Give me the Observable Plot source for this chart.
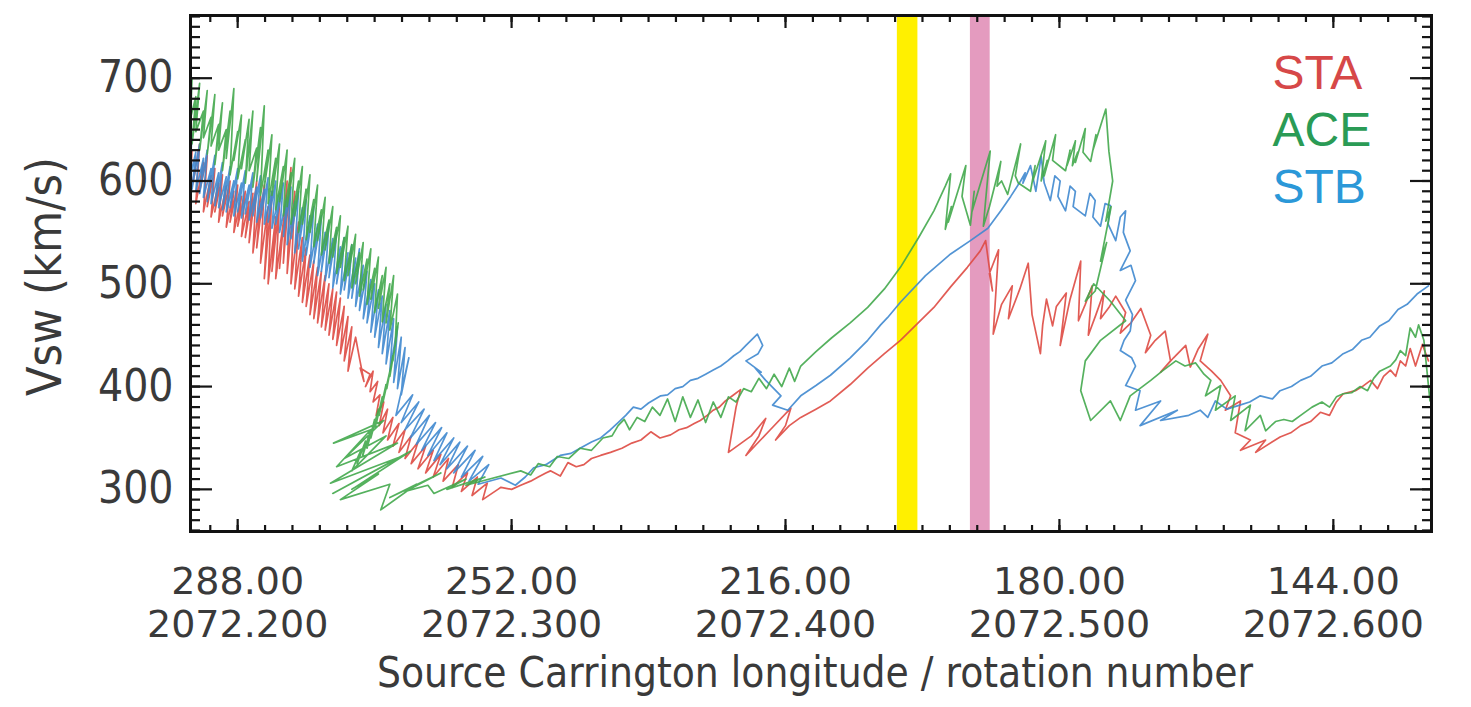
<!DOCTYPE html>
<html><head><meta charset="utf-8">
<script src="https://cdn.jsdelivr.net/npm/d3@7"></script>
<script src="https://cdn.jsdelivr.net/npm/@observablehq/plot@0.6"></script>
<style>html,body{margin:0;padding:0;background:#fff}svg{display:block}</style>
</head><body><div id="chart"></div>
<script>
// Source Carrington longitude (deg) and solar wind speed (km/s)
const sta = [
[294.2,600],[294.0,630],[294.5,585],[293.5,612],[294.0,595],[293.0,636],[293.5,578],[292.5,618],[293.0,590],[292.0,625],[292.5,570],[291.5,605],[292.0,575],[291.0,612],[291.5,565],[290.5,598],[291.0,570],[290.0,606],[290.5,560],[289.5,595],[290.0,566],[289.0,600],[289.5,555],[288.5,590],[289.0,560],[288.0,596],[288.5,550],[287.5,585],[288.0,556],[287.0,590],[287.5,546],[286.5,580],[287.0,545],[286.0,588],[286.5,540],[285.5,600],[286.0,530],[285.0,585],[285.5,535],[284.5,596],[285.0,520],[284.0,575],[284.5,505],[283.5,590],[284.0,500],[283.0,565],[283.5,512],[282.5,580],[283.0,505],[282.0,560],[282.5,515],[281.5,600],[282.0,520],[281.0,613],[281.5,510],[280.5,590],[281.0,500],[280.0,560],[280.5,495],[279.5,545],[280.0,488],[279.0,535],[279.5,482],[278.5,528],[279.0,478],[278.0,522],[278.5,470],[277.5,516],[278.0,466],[277.0,512],[277.5,462],[276.5,508],[277.0,458],[276.0,500],[276.5,455],[275.5,495],[276.0,450],[275.0,492],[275.5,446],[274.5,486],[275.0,440],[274.0,478],[274.5,432],[273.5,468],[274.0,425],[273.0,458],[273.5,415],[272.5,448],
[272.0,428],[271.4,405],[271.9,418],[270.6,412],[271.2,400],[270.2,415],[270.6,395],[269.6,405],[270.2,385],[269.3,392],[269.8,372],[268.8,385],[269.4,362],[268.3,378],[268.9,355],[267.6,370],[268.3,348],[266.8,364],[267.6,342],[266.0,358],[266.8,336],[265.2,352],[266.0,330],[264.3,346],[265.2,325],[263.3,342],[264.3,320],[262.3,338],[263.3,316],[261.3,334],[262.3,312],[260.3,330],[261.0,308],[259.0,324],[259.8,302],[257.8,316],[258.6,298],[256.5,312],[257.2,294],[255.2,306],[255.8,290],[253.8,300],
[253.4,302],[252.0,300],[250.8,304],[249.5,308],[248.5,312],[247.5,316],[246.9,318],[245.6,313],[244.6,326],[243.5,322],[242.5,324],[241.5,330],[240.3,333],[239.0,336],[237.5,340],[236.2,345],[235.0,348],[233.7,356],[232.5,350],[231.1,353],[230.0,358],[229.0,360],[228.0,364],[227.2,367],[226.3,372],[225.5,377],[224.7,380],[223.9,386],[222.8,392],[221.9,397],[222.5,380],[223.5,336],[220.5,352],[218.6,369],[219.5,352],[221.2,333],[218.0,358],[215.3,379],[216.0,362],[217.3,348],[215.5,362],[214.0,370],[212.0,378],[210.1,386],[207.5,402],[205.2,418],[203.0,432],[200.9,445],[198.7,461],[196.5,477],[194.3,497],[192.1,516],[190.4,532],[189.7,542],
[188.8,493],[189.2,510],[188.0,533],[188.7,451],[187.6,480],[186.2,498],[186.7,466],[185.2,495],[184.1,520],[183.6,470],[182.5,432],[182.2,460],[181.7,485],[180.9,459],[180.4,478],[179.1,491],[179.9,440],[178.6,485],[177.2,522],[177.5,464],[176.6,480],[175.7,498],[176.2,450],[175.2,470],[174.1,493],[174.6,466],[173.4,478],[172.6,488],[171.3,472],[172.0,452],[170.6,462],[169.3,476],[168.0,450],[168.7,433],[167.4,445],[166.1,454],[165.4,425],[166.7,414],[165.0,428],[163.4,440],[162.8,419],[161.8,436],[160.5,451],[161.5,425],[160.0,415],[158.8,406],[157.5,391],[158.2,377],[156.2,386],[156.9,355],[154.9,348],[156.2,338],[152.9,348],[154.2,336],[151.0,351],[149.6,355],[148.3,362],[147.0,366],[145.7,375],[144.5,372],[143.6,385],[142.7,393],[141.1,396],[140.2,400],[139.1,406],[138.2,398],[137.4,410],[136.5,416],[135.8,410],[135.2,425],[134.5,420],[133.9,437],[133.2,420],[132.3,441],[131.5,425]
];
const ace = [
[294.2,660],[294.0,700],[294.5,652],[293.5,682],[294.0,636],[293.0,695],[293.5,648],[292.5,668],[293.0,630],[292.0,688],[292.5,642],[291.5,662],[292.0,626],[291.0,684],[291.5,634],[290.5,655],[291.0,616],[290.0,676],[290.5,630],[289.5,650],[290.0,610],[289.0,668],[289.5,622],[288.5,690],[289.0,606],[288.0,648],[288.5,620],[287.5,664],[288.0,602],[287.0,640],[287.5,612],[286.5,660],[287.0,598],[286.0,668],[286.5,610],[285.5,632],[286.0,594],[285.0,652],[285.5,600],[284.5,673],[285.0,586],[284.0,630],[284.5,594],[283.5,645],[284.0,578],[283.0,622],[283.5,586],[282.5,636],[283.0,572],[282.0,614],[282.5,580],[281.5,630],[282.0,566],[281.0,608],[281.5,575],[280.5,622],[281.0,558],[280.0,600],[280.5,566],[279.5,614],[280.0,550],[279.0,592],[279.5,558],[278.5,606],[279.0,543],[278.0,582],[278.5,550],[277.5,596],[278.0,536],[277.0,572],[277.5,542],[276.5,584],[277.0,528],[276.0,562],[276.5,533],[275.5,575],[276.0,520],[275.0,555],[275.5,526],[274.5,566],[275.0,510],[274.0,545],[274.5,516],[273.5,556],[274.0,503],[273.0,538],[273.5,508],[272.5,548],[273.0,496],[272.0,530],[272.5,500],[271.5,540],[272.0,488],[271.0,524],[271.5,494],[270.5,534],[271.0,480],[270.0,515],[270.5,485],[269.5,526],[270.0,472],[269.0,508],[269.5,476],[268.5,516],[269.0,463],[268.0,500],[268.5,462],[267.5,508],[268.0,455],[267.0,490],
[267.3,440],[266.9,462],[267.6,425],[267.2,445],[268.0,410],[267.6,430],[268.4,398],[268.0,415],[268.9,385],[268.5,402],[269.4,372],[269.0,390],[269.9,360],[269.5,378],[270.5,350],[270.0,368],[271.0,340],[270.6,356],[271.6,332],[271.2,347],[272.3,325],[271.8,338],[273.0,318],
[268.5,352],[274.0,330],[268.8,367],[275.4,345],[270.5,358],[275.0,322],[267.0,345],[275.8,306],[266.5,332],[275.5,296],[265.3,337],[273.0,300],[269.5,315],[274.5,290],[268.0,305],[269.2,280],[264.5,305],[268.0,292],[261.3,316],[266.0,298],[263.0,304],[262.2,296],[258.0,310],[260.5,300],[255.5,312],[258.0,304],[250.8,318],
[249.5,314],[248.5,325],[247.0,322],[246.0,332],[244.5,330],[243.0,340],[241.5,338],[240.0,350],[238.8,352],[238.0,362],[237.2,368],[236.5,358],[235.5,370],[234.5,366],[233.5,380],[232.5,372],[231.5,388],[230.5,366],[229.5,390],[228.5,370],[227.5,387],[226.5,365],[225.5,385],[224.5,370],[223.5,390],[222.5,385],[221.5,398],[220.5,395],[219.5,408],[218.5,398],[217.5,412],[216.5,400],[215.5,418],[214.8,405],[214.0,420],[212.0,434],[210.0,447],[207.5,462],[205.2,477],[203.0,495],[200.9,516],[198.5,545],[196.5,571],[195.0,595],[194.3,607],
[195.0,553],[194.2,575],[194.6,560],[192.3,615],[192.8,585],[191.7,557],[191.2,590],[191.5,570],[189.1,629],[189.7,581],[190.0,556],[189.2,575],[187.7,619],[188.2,595],[187.6,600],[186.8,587],[185.1,636],[185.8,605],[185.4,598],[183.8,590],[183.2,615],[183.5,600],[181.8,639],[182.4,600],[181.6,620],[182.0,605],[180.5,645],[180.9,620],[179.2,610],[178.6,630],[179.0,615],[177.9,639],[178.3,615],[177.6,628],[177.9,618],[176.6,651],[176.9,628],[175.9,619],[175.2,645],[175.6,630],[173.9,670],[173.5,629],[173.0,600],[173.9,561],[173.2,575],[174.6,522],[173.8,540],[175.3,493],[176.6,483],[175.5,500],[173.3,483],[171.3,464],[174.6,445],[176.6,425],[177.2,396],[175.9,367],[173.3,386],[172.0,367],[170.7,391],[168.0,406],[166.5,415],[164.7,425],[163.5,420],[162.1,423],[161.0,412],[160.1,406],[160.8,391],[158.8,401],[159.5,377],[156.9,391],[157.5,367],[154.9,382],[155.6,357],[153.6,372],[152.9,357],[151.6,366],[150.5,368],[149.4,366],[148.3,372],[146.8,380],[145.5,385],[144.5,380],[143.6,390],[142.7,393],[141.6,394],[140.5,400],[139.5,396],[138.7,408],[137.9,415],[136.5,420],[135.8,426],[135.2,435],[134.5,430],[133.9,457],[133.2,448],[132.8,460],[132.1,445],[131.3,386]
];
const stb = [
[294.2,620],[294.0,645],[294.5,596],[293.5,628],[294.0,592],[293.0,636],[293.5,590],[292.5,622],[293.0,588],[292.0,630],[292.5,584],[291.5,612],[292.0,580],[291.0,625],[291.5,578],[290.5,608],[291.0,576],[290.0,618],[290.5,574],[289.5,604],[290.0,572],[289.0,614],[289.5,570],[288.5,600],[289.0,574],[288.0,612],[288.5,566],[287.5,598],[288.0,570],[287.0,610],[287.5,564],[286.5,596],[287.0,568],[286.0,608],[286.5,562],[285.5,594],[286.0,566],[285.0,605],[285.5,560],[284.5,592],[285.0,564],[284.0,603],[284.5,558],[283.5,590],[284.0,560],[283.0,600],[283.5,554],[282.5,588],[283.0,558],[282.0,598],[282.5,550],[281.5,584],[282.0,546],[281.0,594],[281.5,538],[280.5,580],[281.0,544],[280.0,590],[280.5,530],[279.5,574],[280.0,534],[279.0,582],[279.5,522],[278.5,566],[279.0,528],[278.0,575],[278.5,516],[277.5,558],[278.0,520],[277.0,566],[277.5,508],[276.5,550],[277.0,512],[276.0,560],[276.5,503],[275.5,544],[276.0,506],[275.0,552],[275.5,496],[274.5,536],[275.0,500],[274.0,545],[274.5,490],[273.5,530],[274.0,494],[273.0,538],[273.5,486],[272.5,525],[273.0,486],[272.0,534],[272.5,478],[271.5,518],[272.0,474],[271.0,512],[271.5,466],[270.5,504],[271.0,462],[270.0,500],[270.5,453],[269.5,494],[270.0,448],[269.0,488],[269.5,438],[268.5,480],[269.0,432],[268.0,474],[268.5,422],[267.5,466],[268.0,415],[267.0,458],[267.5,404],[266.5,448],[267.0,398],[266.0,438],[266.5,392],[265.5,428],
[267.2,372],[265.0,392],[266.5,365],[264.2,385],[266.0,358],[263.5,378],[265.3,350],[262.8,372],[264.5,344],[262.0,365],[263.8,338],[261.2,360],[263.0,333],[260.5,355],[262.2,328],[259.6,350],[261.4,324],[258.8,346],[260.5,320],[257.8,342],[259.6,316],[256.8,338],[258.6,312],[255.8,332],[257.6,308],[255.0,324],[256.4,305],[253.4,311],[251.5,304],
[250.2,312],[249.1,321],[247.5,324],[245.6,333],[244.2,335],[243.0,340],[241.5,346],[240.3,350],[239.0,358],[238.0,365],[237.0,372],[236.0,380],[235.0,378],[234.0,384],[232.4,391],[231.5,392],[230.5,398],[229.5,400],[228.5,406],[227.5,408],[226.5,412],[225.5,416],[224.5,420],[223.6,425],[222.8,430],[222.0,434],[221.2,440],[220.4,446],[219.7,451],[219.0,440],[219.6,432],[221.2,425],[219.2,414],[220.0,418],[218.6,406],[216.6,391],[217.7,382],[215.7,377],[214.0,391],[212.0,401],[210.1,411],[207.5,428],[205.2,445],[203.5,460],[202.6,467],[200.9,482],[197.6,508],[194.3,529],[191.7,542],[189.4,554],[187.7,571],[186.4,585],[185.1,600],
[184.5,608],[184.8,598],[183.8,615],[183.1,590],[182.4,624],[182.0,598],[181.2,581],[180.6,605],[179.9,600],[180.2,585],[179.2,571],[178.6,595],[177.9,590],[178.2,575],[176.6,566],[176.0,588],[175.3,581],[175.6,565],[174.6,556],[174.0,578],[173.3,576],[173.6,558],[172.6,542],[172.0,565],[171.3,571],[171.6,550],[170.7,532],[172.0,513],[170.6,518],[170.0,503],[171.3,484],[170.4,470],[170.7,454],[171.5,445],[172.0,435],[170.5,428],[170.0,420],[171.3,401],[169.4,396],[170.0,377],[166.7,386],[169.4,362],[164.5,377],[166.7,367],[163.0,372],[161.5,377],[160.5,370],[159.5,386],[158.0,378],[156.3,382],[155.0,385],[153.6,391],[152.0,388],[151.0,396],[149.5,400],[148.3,406],[147.0,410],[145.5,420],[144.2,423],[142.7,432],[141.5,436],[140.3,445],[139.2,448],[137.9,459],[136.7,464],[135.5,475],[134.3,480],[133.0,490],[131.5,498]
];
const bandStart = [201.3, 191.7];
const bandEnd = [198.6, 189.1];
const xMajor = [288, 252, 216, 180, 144];
const rotLabels = ["2072.200", "2072.300", "2072.400", "2072.500", "2072.600"];
const yMajor = [300, 400, 500, 600, 700];
const seriesNames = ["STA", "ACE", "STB"];

// styles
const lineColors = {STA: "#de4a43", ACE: "#43a84c", STB: "#3f88cf"};
const legendColors = ["#d64848", "#2a9b55", "#2b98d8"];
const bandColors = ["#fff000", "#e49bbf"];
const axisFont = "'DejaVu Sans Condensed', 'DejaVu Sans', sans-serif";
const textColor = "#3a3a3a";
const tickColor = "#151515";

const minorY = d3.range(260, 761, 10);
const minorX = d3.range(0, 46).map(i => 291.6 - 3.6 * i).filter(d => d >= 131.1);
const rotByLon = new Map(xMajor.map((d, i) => [d, rotLabels[i]]));
const bands = bandStart.map((d, i) => ({x1: d, x2: bandEnd[i]}));
const drawOrder = [["STA", sta], ["STB", stb], ["ACE", ace]];

const tickAxis = (fn, data, anchor, size) => fn(data, {anchor, tickSize: -size, fill: "none", stroke: tickColor, strokeWidth: 2.2, label: null});

const plot = Plot.plot({
  width: 1471, height: 707,
  marginLeft: 190, marginRight: 40, marginTop: 15, marginBottom: 176,
  x: {domain: [294.2, 131.1]},
  y: {domain: [259, 761]},
  style: {background: "#fff", fontFamily: axisFont},
  marks: [
    Plot.rect([bands[0]], {x1: "x1", x2: "x2", fill: bandColors[0]}),
    Plot.rect([bands[1]], {x1: "x1", x2: "x2", fill: bandColors[1]}),
    ...drawOrder.map(([n, s]) => Plot.line(s, {x: d => d[0], y: d => d[1], stroke: lineColors[n], strokeWidth: 1.7, strokeOpacity: 0.9, strokeLinejoin: "round", clip: true})),
    tickAxis(Plot.axisY, minorY, "left", 10),
    tickAxis(Plot.axisY, yMajor, "left", 22),
    tickAxis(Plot.axisY, minorY, "right", 10),
    tickAxis(Plot.axisY, yMajor, "right", 22),
    tickAxis(Plot.axisX, minorX, "bottom", 6),
    tickAxis(Plot.axisX, xMajor, "bottom", 12),
    tickAxis(Plot.axisX, minorX, "top", 6),
    tickAxis(Plot.axisX, xMajor, "top", 12),
    Plot.axisY(yMajor, {anchor: "left", tickSize: 0, tickPadding: 17, fontSize: 44, fill: textColor, label: null, tickFormat: d => String(d)}),
    Plot.axisX(xMajor, {anchor: "bottom", tickSize: 0, tickPadding: 31, fontSize: 38, fontFamily: "'DejaVu Sans', sans-serif", lineHeight: 1.15, fill: textColor, label: null,
      tickFormat: d => d.toFixed(2) + "\n" + rotByLon.get(d)}),
    Plot.frame({stroke: "#111", strokeWidth: 3}),
    Plot.text(["Source Carrington longitude / rotation number"], {text: d => d, frameAnchor: "bottom", textAnchor: "middle", dx: 4, dy: 155, lineAnchor: "bottom", fontSize: 42, fill: textColor}),
    Plot.text(["Vsw (km/s)"], {text: d => d, frameAnchor: "left", textAnchor: "middle", dx: -145, dy: 3, rotate: -90, fontSize: 48, fill: textColor}),
    ...seriesNames.map((n, i) => Plot.text([n], {text: d => d, frameAnchor: "top-left", dx: 1082, dy: 73 + 57 * i, lineAnchor: "bottom", textAnchor: "start", fontSize: 48, fontFamily: "'Liberation Sans', Arial, sans-serif", fill: legendColors[i]}))
  ]
});
document.getElementById("chart").append(plot);
</script>
</body></html>
